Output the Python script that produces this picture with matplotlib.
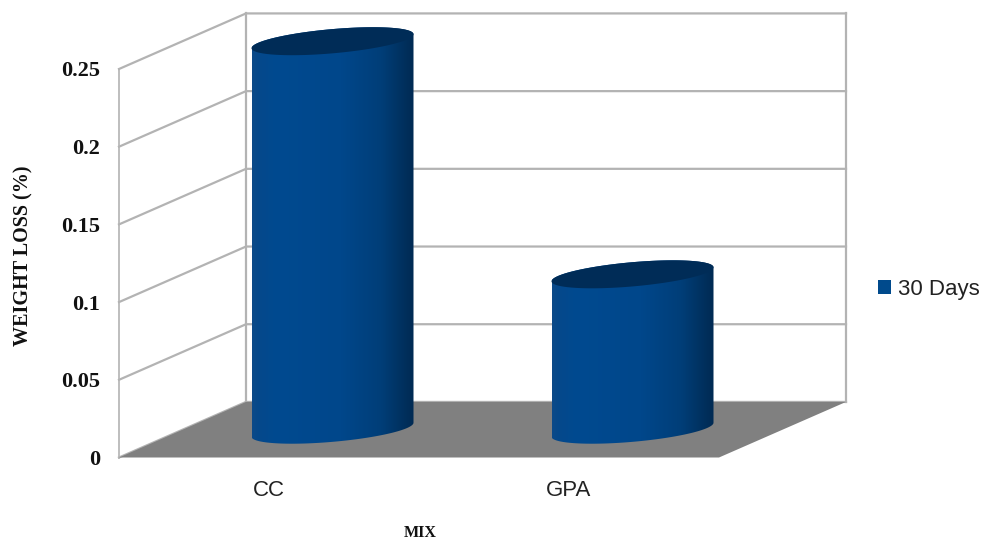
import numpy as np
import matplotlib
matplotlib.use("Agg")
import matplotlib.pyplot as plt

from matplotlib.colors import to_rgb
from matplotlib.patches import Patch, Polygon


categories = ["CC", "GPA"]
values = [0.25, 0.1]
y_ticks = [0, 0.05, 0.1, 0.15, 0.2, 0.25]
y_tick_labels = ["0", "0.05", "0.1", "0.15", "0.2", "0.25"]
series_name = "30 Days"

SERIF = "Liberation Serif"
SANS = "Liberation Sans"
GRID = "#b3b3b3"

# how far the back wall is shifted from the front, in data units
DEPTH_X = 127 / 300
DEPTH_Y = 55.5 / 1552

# cylinder shape in data units
RADIUS_X = 0.27
RADIUS_Y = 0.0078
SHEAR = 0.0045

GRAD_POS = [0.0, 0.04, 0.15, 0.55, 0.8, 0.92, 1.0]
GRAD_COL = ["#0c4a88", "#05488b", "#004a90", "#00478b", "#003e78", "#003261", "#002a53"]


def ellipse(cx, cy, t):
    return cx + RADIUS_X * np.cos(t), cy + SHEAR * np.cos(t) + RADIUS_Y * np.sin(t)


def draw_cylinder(ax, pos, value):
    cx = pos + DEPTH_X / 2
    cy = DEPTH_Y / 2
    x1, y1 = ellipse(cx, cy, np.linspace(np.pi, 2 * np.pi, 80))
    x2, y2 = ellipse(cx, cy + value, np.linspace(0, np.pi, 80))
    outline = np.column_stack([np.r_[x1, x2], np.r_[y1, y2]])
    patch = Polygon(outline, closed=True, facecolor="none", edgecolor="none", zorder=4)
    ax.add_patch(patch)

    s = np.linspace(0, 1, 256)
    rgb = np.array([to_rgb(c) for c in GRAD_COL])
    grad = np.stack([np.interp(s, GRAD_POS, rgb[:, i]) for i in range(3)], axis=-1)
    im = ax.imshow(
        grad[np.newaxis, :, :],
        extent=(cx - RADIUS_X, cx + RADIUS_X, 0, value + DEPTH_Y),
        aspect="auto",
        zorder=4,
    )
    # the top of the cylinder pokes out of the axes box
    im.set_clip_box(ax.figure.bbox)
    im.set_clip_path(patch)

    xt, yt = ellipse(cx, cy + value, np.linspace(0, 2 * np.pi, 160))
    ax.fill(xt, yt, color="#002c57", lw=0, zorder=5, clip_on=False)


def main():
    fig = plt.figure(figsize=(9.83, 5.43), dpi=100)
    ax = fig.add_axes([119 / 983, 1 - 457.5 / 543, 600 / 983, 388.5 / 543])
    n = len(categories)
    for side in ax.spines.values():
        side.set_visible(False)

    # walls
    for v in y_ticks:
        ax.plot(
            [0, DEPTH_X, n + DEPTH_X],
            [v, v + DEPTH_Y, v + DEPTH_Y],
            color=GRID,
            lw=1.6,
            clip_on=False,
            zorder=1,
        )
    top = y_ticks[-1]
    ax.plot([0, 0], [0, top], color=GRID, lw=1.2, clip_on=False, zorder=1)
    for xb in [DEPTH_X, n + DEPTH_X]:
        ax.plot([xb, xb], [DEPTH_Y, top + DEPTH_Y], color=GRID, lw=1.6, clip_on=False, zorder=1)

    # floor
    ax.add_patch(
        Polygon(
            [(0, 0), (n, 0), (n + DEPTH_X, DEPTH_Y), (DEPTH_X, DEPTH_Y)],
            closed=True,
            facecolor="#808080",
            edgecolor="none",
            clip_on=False,
            zorder=2,
        )
    )

    for i, v in enumerate(values):
        draw_cylinder(ax, i + 0.5, v)

    ax.set_xlim(0, n)
    ax.set_ylim(0, top)
    ax.patch.set_visible(False)

    ax.set_xticks([i + 0.5 for i in range(n)])
    ax.set_xticklabels(categories, fontfamily=SANS, fontsize=16, color="#222222")
    ax.set_yticks(y_ticks)
    ax.set_yticklabels(y_tick_labels, fontfamily=SERIF, fontsize=16, fontweight="bold", color="#111111")
    ax.tick_params(axis="x", length=0, pad=16)
    ax.tick_params(axis="y", length=0, pad=13.5)

    fig.text(420 / 983, 1 - 533 / 543, "MIX", fontfamily=SERIF, fontsize=11.5, fontweight="bold",
             ha="center", va="center", color="#111111")
    fig.text(23 / 983, 1 - 256 / 543, "WEIGHT LOSS (%)", fontfamily=SERIF, fontsize=14.5, fontweight="bold",
             rotation=90, ha="center", va="center", color="#111111")

    handle = Patch(facecolor="#004a8c", edgecolor="none", label=series_name)
    fig.legend(
        handles=[handle],
        loc="center left",
        bbox_to_anchor=(862 / 983, 1 - 289 / 543),
        frameon=False,
        prop={"family": SANS, "size": 16},
        handlelength=0.6,
        handleheight=0.6,
        handletextpad=0.3,
        labelcolor="#222222",
        borderpad=0.2,
    )

    fig.savefig("out.png", dpi=100)


if __name__ == "__main__":
    main()
